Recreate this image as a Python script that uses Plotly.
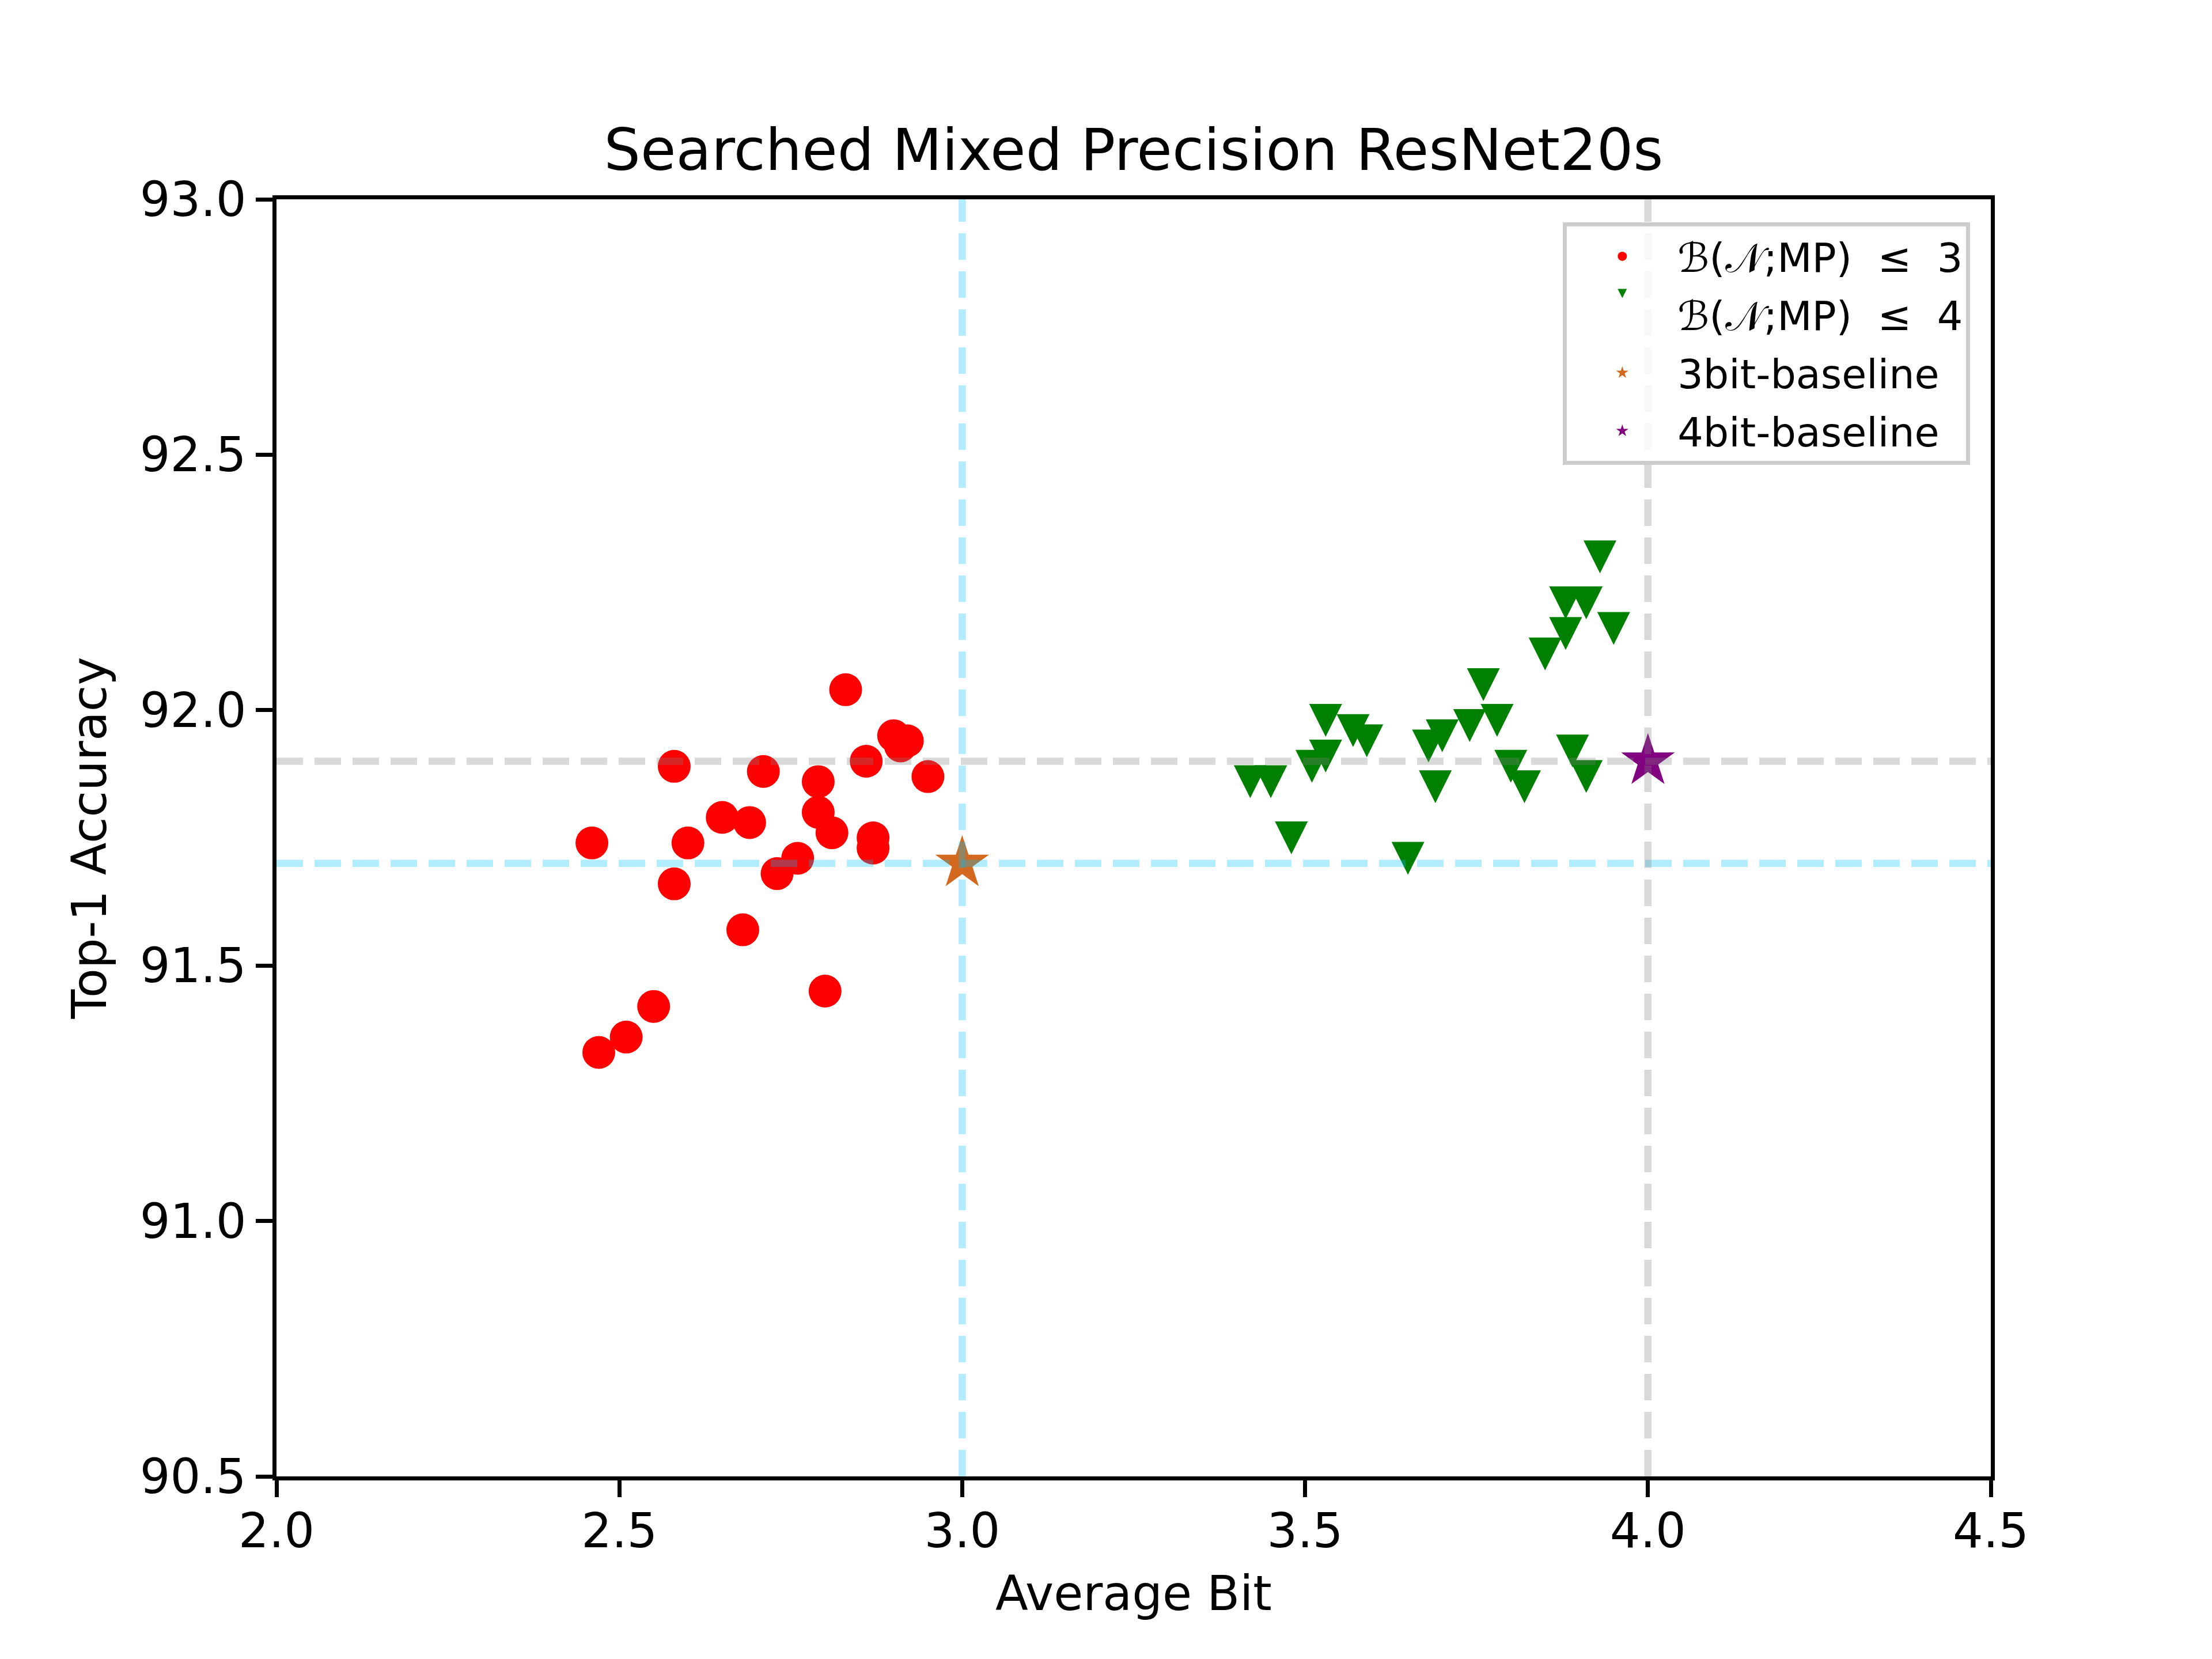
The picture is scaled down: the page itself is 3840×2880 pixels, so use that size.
import plotly.graph_objects as go

# searched mixed precision nets with an average-bit budget of 3
bits_b3 = [2.83, 2.90, 2.92, 2.91, 2.86, 2.95, 2.58, 2.71, 2.79, 2.79, 2.81, 2.65, 2.69,
           2.46, 2.60, 2.87, 2.87, 2.76, 2.73, 2.58, 2.68, 2.80, 2.55, 2.51, 2.47]
acc_b3 = [92.04, 91.95, 91.94, 91.93, 91.90, 91.87, 91.89, 91.88, 91.86, 91.80, 91.76, 91.79, 91.78,
          91.74, 91.74, 91.75, 91.73, 91.71, 91.68, 91.66, 91.57, 91.45, 91.42, 91.36, 91.33]

# ... and with a budget of 4
bits_b4 = [3.93, 3.88, 3.91, 3.88, 3.95, 3.85, 3.76, 3.53, 3.78, 3.74, 3.57, 3.59, 3.70,
           3.68, 3.53, 3.51, 3.89, 3.80, 3.91, 3.42, 3.45, 3.82, 3.69, 3.48, 3.65]
acc_b4 = [92.30, 92.21, 92.21, 92.15, 92.16, 92.11, 92.05, 91.98, 91.98, 91.97, 91.96, 91.94, 91.95,
          91.93, 91.91, 91.89, 91.92, 91.89, 91.87, 91.86, 91.86, 91.85, 91.85, 91.75, 91.71]

# uniform precision baselines
base_names = ["3bit-baseline", "4bit-baseline"]
base_bits = [3.0, 4.0]
base_acc = [91.7, 91.9]
base_colors = ["#D2691E", "#800080"]
guide_colors = ["rgba(0,191,255,0.3)", "rgba(128,128,128,0.3)"]

# page body has an 8px margin, so the figure is a bit smaller than the window
W, H = 3832, 2872
FONT = "DejaVu Sans"

fig = go.Figure()

fig.add_trace(go.Scatter(
    x=bits_b3, y=acc_b3, mode="markers", name="ℬ(𝒩;MP)  ≤  3", legendgroup="b3",
    marker=dict(symbol="circle", size=57, color="red", line=dict(width=0)),
))
# arrow-down is drawn tip-at-point, standoff pushes it so the box is centred
fig.add_trace(go.Scatter(
    x=bits_b4, y=acc_b4, mode="markers", name="ℬ(𝒩;MP)  ≤  4", legendgroup="b4",
    marker=dict(symbol="arrow-down", size=57, standoff=28.5, color="green", line=dict(width=0)),
))
for name, b, a, c in zip(base_names, base_bits, base_acc, base_colors):
    fig.add_trace(go.Scatter(
        x=[b], y=[a], mode="markers", name=name, legendgroup=name,
        marker=dict(symbol="star", size=70, color=c, line=dict(width=0)),
    ))

# dashed guides through the baselines, drawn on top of the markers
for b, a, c in zip(base_bits, base_acc, guide_colors):
    dash = dict(color=c, width=12.5, dash="46px,20px")
    fig.add_shape(type="line", xref="x", yref="paper", x0=b, x1=b, y0=0, y1=1,
                  line=dash, layer="above")
    fig.add_shape(type="line", xref="paper", yref="y", x0=0, x1=1, y0=a, y1=a,
                  line=dash, layer="above")

axis = dict(
    showgrid=False, zeroline=False, showline=True, linecolor="black", linewidth=6.7,
    mirror=True, ticks="outside", ticklen=29, tickwidth=6.7, tickcolor="black",
    tickfont=dict(family=FONT, size=83, color="black"), dtick=0.5, tickformat=".1f",
)

fig.update_layout(
    width=W, height=H,
    margin=dict(l=472, r=384, t=338, b=317),
    paper_bgcolor="white", plot_bgcolor="white",
    font=dict(family=FONT, color="black"),
    title=dict(text="Searched Mixed Precision ResNet20s", x=0.5, xref="paper",
               y=1 - 252 / H, yref="container", yanchor="middle",
               font=dict(family=FONT, size=100, color="black")),
    xaxis=dict(axis, range=[2.0, 4.5], tick0=2.0, ticklabelstandoff=-12,
               title=dict(text="Average Bit", font=dict(family=FONT, size=83), standoff=34)),
    yaxis=dict(axis, range=[90.5, 93.0], tick0=90.5,
               title=dict(text="Top-1 Accuracy", font=dict(family=FONT, size=83), standoff=33)),
    legend=dict(x=0.988, y=0.982, xanchor="right", yanchor="top",
                itemwidth=182, tracegroupgap=7,
                bgcolor="rgba(255,255,255,0.8)", bordercolor="#cccccc", borderwidth=7,
                font=dict(family=FONT, size=70, color="black")),
    showlegend=True,
)

fig.write_html("out.html")
